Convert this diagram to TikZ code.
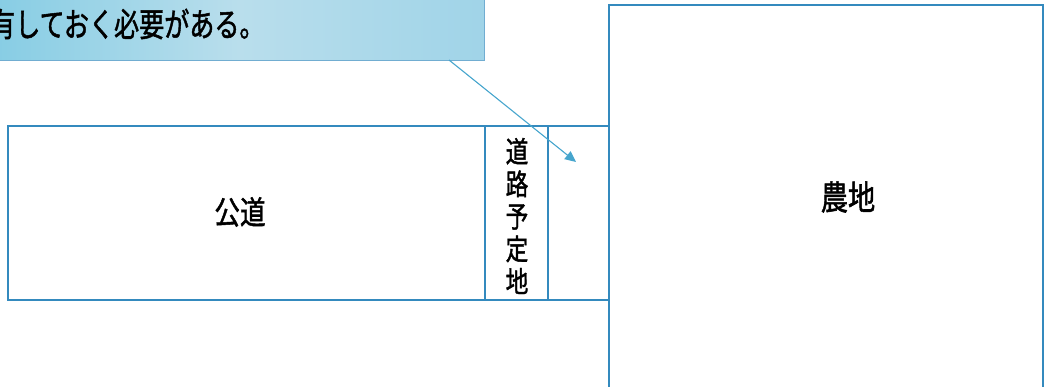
\documentclass[tikz,border=0pt]{standalone}
\usepackage{fontspec}
\newfontfamily\cjk[FakeBold=1.6]{Noto Sans CJK JP}
\usetikzlibrary{arrows.meta}
\definecolor{lineblue}{RGB}{52,138,190}
\definecolor{arrowblue}{RGB}{70,165,205}
\definecolor{calloutL}{RGB}{135,205,228}
\definecolor{calloutM}{RGB}{185,222,236}
\definecolor{calloutR}{RGB}{160,212,232}
\newcommand{\narrow}[2][0.8]{\scalebox{#1}[1]{#2}}
\tikzset{
  plot/.style={draw=lineblue, line width=1.6pt, inner sep=0pt, outer sep=0pt, anchor=north west},
  lbl/.style={font=\cjk\fontsize{32}{34}\selectfont, text=black, inner sep=0pt},
  callout/.style={draw=lineblue!70, line width=0.8pt, left color=calloutL, right color=calloutR, middle color=calloutM, inner sep=0pt, outer sep=0pt, anchor=north west},
}
\begin{document}
\begin{tikzpicture}[x=1pt,y=-1pt]
\useasboundingbox (0,0) rectangle (1045,387);
% callout
\node[callout, minimum width=490pt, minimum height=66pt] (note) at (-6,-6) {};
\node[lbl, font=\cjk\fontsize{33}{34}\selectfont, anchor=west] (notetext) at (-10,24) {\narrow[0.76]{有しておく必要がある。}};
% strip
\node[plot, minimum width=477pt, minimum height=174pt] (koudou) at (8,126) {};
\node[lbl] (koudoulbl) at (240,212) {\narrow{公道}};
\node[plot, minimum width=63pt, minimum height=174pt] (yotei) at (485,126) {};
\node[lbl, font=\cjk\fontsize{29}{32.5}\selectfont, align=center] (yoteilbl) at (517,216) {\narrow[0.78]{道}\\\narrow[0.78]{路}\\\narrow[0.78]{予}\\\narrow[0.78]{定}\\\narrow[0.78]{地}};
\node[plot, minimum width=61pt, minimum height=174pt] (gap) at (548,126) {};
% farmland
\node[plot, minimum width=434pt, minimum height=400pt] (nouchi) at (609,5) {};
\node[lbl, font=\cjk\fontsize{34}{36}\selectfont] (nouchilbl) at (848,197) {\narrow[0.8]{農地}};
% arrow
\coordinate (from) at (449,60);
\coordinate (tip) at (576,162);
\draw[arrowblue, line width=1.1pt, -{Triangle[width=10pt,length=11pt]}] (from) -- (tip);
\end{tikzpicture}
\end{document}
